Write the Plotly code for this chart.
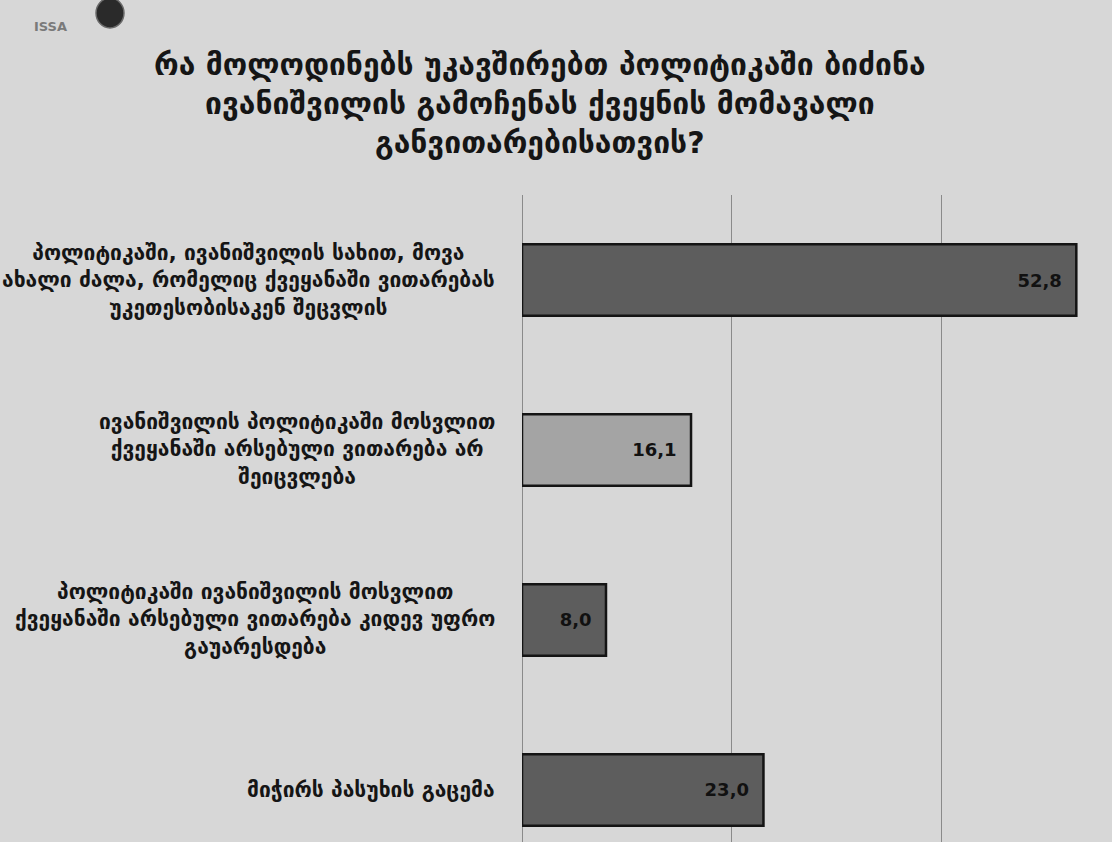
import plotly.graph_objects as go

title_text = ("რა მოლოდინებს უკავშირებთ პოლიტიკაში ბიძინა<br>"
              "ივანიშვილის გამოჩენას ქვეყნის მომავალი<br>"
              "განვითარებისათვის?")

categories = [
    "პოლიტიკაში, ივანიშვილის სახით, მოვა<br>ახალი ძალა, რომელიც ქვეყანაში ვითარებას<br>უკეთესობისაკენ შეცვლის",
    "ივანიშვილის პოლიტიკაში მოსვლით<br>ქვეყანაში არსებული ვითარება არ<br>შეიცვლება",
    "პოლიტიკაში ივანიშვილის მოსვლით<br>ქვეყანაში არსებული ვითარება კიდევ უფრო<br>გაუარესდება",
    "მიჭირს პასუხის გაცემა",
]
values = [52.8, 16.1, 8.0, 23.0]
bar_colors = ["#5d5d5d", "#a4a4a4", "#5d5d5d", "#5d5d5d"]
grid_ticks = [0, 20, 40, 60]

FONT = "DejaVu Sans"
BG = "#d7d7d7"

fig = go.Figure()
fig.add_trace(go.Bar(
    y=categories, x=values, orientation="h",
    marker=dict(color=bar_colors, line=dict(color="#141414", width=2.5)),
    width=0.42,
    text=values, texttemplate="<b>%{x:.1f}</b>  ",
    textposition="inside", insidetextanchor="end",
    textfont=dict(family=FONT, size=18, color="#111111"),
    cliponaxis=False, hoverinfo="skip",
))

for cat in categories:
    fig.add_annotation(
        x=0, xref="paper", y=cat, yref="y", xanchor="right", yanchor="middle",
        xshift=-25, align="center", showarrow=False,
        text="<b>" + cat + "</b>",
        font=dict(family=FONT, size=21, color="#151515"),
    )

fig.add_annotation(
    x=(540 - 522) / 590, xref="paper", y=1, yref="paper", yshift=92, yanchor="middle",
    xanchor="center", align="center", showarrow=False,
    text="<b>" + title_text + "</b>",
    font=dict(family=FONT, size=30, color="#151515"),
)

# logo
fig.add_annotation(x=(32 - 522) / 590, xref="paper", y=(842 - 17) / 647, yref="paper",
                   showarrow=False, text="<b>ISSA</b>",
                   font=dict(family=FONT, size=13, color="#7a7a7a"))
fig.add_shape(type="circle", xref="paper", yref="paper",
              x0=(96 - 522) / 590, x1=(124 - 522) / 590,
              y0=(842 - 28) / 647, y1=(842 + 2) / 647,
              fillcolor="#2a2a2a", line=dict(color="#6a6a6a", width=1.5), layer="above")

fig.update_layout(
    width=1112, height=842,
    margin=dict(l=522, r=0, t=195, b=0),
    paper_bgcolor=BG, plot_bgcolor=BG,
    separators=", ",
    showlegend=False,
    xaxis=dict(range=[0, 56.2], tickvals=grid_ticks, showticklabels=False,
               showgrid=True, gridcolor="#8a8a8a", gridwidth=1.2,
               zeroline=True, zerolinecolor="#8a8a8a", zerolinewidth=1.2,
               showline=False, fixedrange=True),
    yaxis=dict(categoryorder="array", categoryarray=categories,
               range=[3.306, -0.5], showticklabels=False, showgrid=False,
               zeroline=False, showline=False, fixedrange=True),
)

fig.write_html("out.html", config={"displayModeBar": False},
               post_script="document.body.style.margin='0';"
                           "document.body.style.background='#d7d7d7';")
